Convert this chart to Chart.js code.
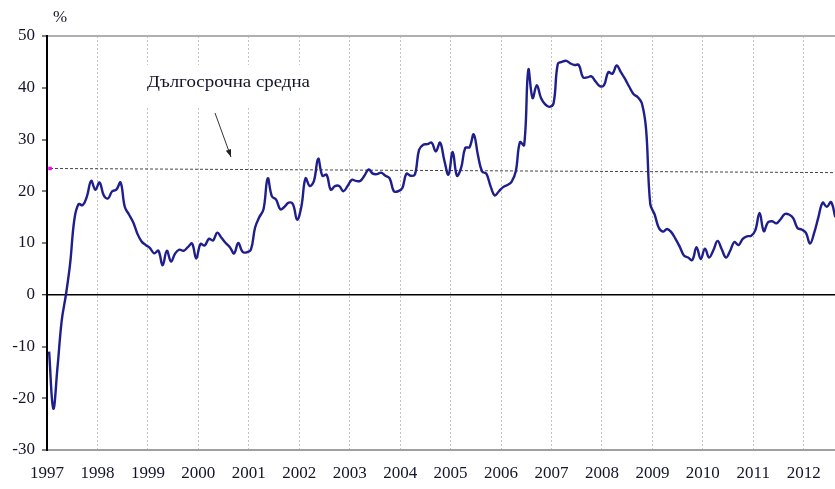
<!DOCTYPE html>
<html>
<head>
<meta charset="utf-8">
<script src="https://cdn.jsdelivr.net/npm/chart.js@4"></script>
<style>
  html, body { margin: 0; padding: 0; background: #fff; overflow: hidden; }
  #wrap { width: 835px; height: 489px; }
  canvas { display: block; }
</style>
</head>
<body>
<div id="wrap"><canvas id="chart" width="835" height="489"></canvas></div>
<script>
// DATA - monthly values (%), Jan 1997 .. Aug 2012
const startYear = 1997;
const endYear = 2012.62;
const yearTicks = [1997, 1998, 1999, 2000, 2001, 2002, 2003, 2004, 2005, 2006, 2007, 2008, 2009, 2010, 2011, 2012];

const values1997 = [-11, -22, -14, -5, 0, 6, 14.5, 17.5, 17.3, 19, 22, 20.3];
const values1998 = [21.7, 19.2, 18.6, 20, 20.3, 21.7, 17, 15.5, 14, 11.8, 10.3, 9.6];
const values1999 = [9, 8, 8.5, 5.7, 8.5, 6.4, 8, 8.7, 8.5, 9.2, 9.9, 7];
const values2000 = [9.8, 9.5, 10.8, 10.5, 12, 11, 10, 9.2, 8, 10, 8.3, 8.2];
const values2001 = [8.7, 13, 15, 16.5, 22.5, 19, 18.4, 16.5, 17, 17.8, 17.5, 14.5];
const values2002 = [17, 22.5, 21, 22, 26.3, 23, 23.2, 20.3, 21, 21, 20, 21];
const values2003 = [22.2, 22, 22, 23, 24.2, 23.4, 23.3, 23.6, 23, 22.5, 20, 20];
const values2004 = [20.6, 23.4, 23, 23.2, 28, 29, 29.1, 29.4, 27.7, 29.4, 26, 23.2];
const values2005 = [27.6, 23, 24.5, 28.4, 28.5, 31, 27, 23.8, 23.4, 21, 19.2, 20];
const values2006 = [20.8, 21.2, 21.8, 23.8, 29.5, 28.9, 43.5, 38, 40.5, 38, 36.8, 36.3];
const values2007 = [37, 44.6, 45, 45.2, 44.7, 44.4, 44.4, 42, 42, 42.2, 41.2, 40.3];
const values2008 = [40.5, 43, 42.7, 44.3, 43, 41.7, 40.2, 38.8, 38.2, 37, 32, 17.5];
const values2009 = [15.6, 13, 12.2, 12.7, 12.1, 10.8, 9.3, 7.6, 7.2, 6.7, 9.2, 6.9];
const values2010 = [8.9, 7.2, 8.6, 10.4, 8.8, 7.2, 8.5, 10.2, 9.6, 10.8, 11.3, 11.4];
const values2011 = [12.5, 15.8, 12.3, 14, 14.2, 13.8, 14.6, 15.6, 15.5, 14.8, 12.9, 12.6];
const values2012 = [12, 9.9, 12, 15, 17.8, 17, 17.9, 15];

// long-term average line (start / end level)
const avgX = [1997.06, 2012.62];
const avgY = [24.4, 23.6];

const annotationText = 'Дългосрочна средна';
const unitText = '%';

// BUILD POINTS
const allValues = [].concat(values1997, values1998, values1999, values2000, values2001,
    values2002, values2003, values2004, values2005, values2006, values2007, values2008,
    values2009, values2010, values2011, values2012);
const linePoints = allValues.map((v, i) => ({ x: startYear + (i + 0.5) / 12, y: v }));
const avgPoints = avgX.map((x, i) => ({ x: x, y: avgY[i] }));

const serif = '"Liberation Serif", "Times New Roman", serif';
const textColor = '#15152a';

// ANNOTATION + UNIT LABEL
const annotationPlugin = {
    id: 'annotation',
    afterDraw(chart) {
        const ctx = chart.ctx;
        ctx.save();
        // white box behind the label
        ctx.fillStyle = '#fff';
        ctx.fillRect(140, 65, 180, 42);

        ctx.fillStyle = textColor;
        ctx.font = '17px ' + serif;
        ctx.textBaseline = 'middle';
        const w = ctx.measureText(annotationText).width;
        ctx.save();
        ctx.translate(147, 83);
        ctx.scale(163 / w, 1);
        ctx.fillText(annotationText, 0, 0);
        ctx.restore();

        // arrow
        const x1 = 215, y1 = 113, x2 = 231, y2 = 157;
        ctx.strokeStyle = '#333';
        ctx.lineWidth = 1;
        ctx.beginPath();
        ctx.moveTo(x1, y1);
        ctx.lineTo(x2, y2);
        ctx.stroke();
        const ang = Math.atan2(y2 - y1, x2 - x1);
        ctx.fillStyle = '#222';
        ctx.beginPath();
        ctx.moveTo(x2, y2);
        ctx.lineTo(x2 - 8 * Math.cos(ang - 0.35), y2 - 8 * Math.sin(ang - 0.35));
        ctx.lineTo(x2 - 8 * Math.cos(ang + 0.35), y2 - 8 * Math.sin(ang + 0.35));
        ctx.closePath();
        ctx.fill();

        // unit
        ctx.fillStyle = textColor;
        ctx.font = '17px ' + serif;
        ctx.textAlign = 'left';
        ctx.fillText(unitText, 53, 18);
        ctx.restore();
    }
};

const ctx = document.getElementById('chart').getContext('2d');
new Chart(ctx, {
    type: 'line',
    data: {
        datasets: [
            {
                label: 'main',
                data: linePoints,
                borderColor: '#1e1e8c',
                borderWidth: 2.4,
                pointRadius: 0,
                tension: 0.4,
                fill: false,
                order: 0
            },
            {
                label: 'avg',
                data: avgPoints,
                borderColor: '#444',
                borderWidth: 1,
                borderDash: [3, 2],
                pointStyle: 'rect',
                pointRadius: [2.5, 0],
                pointBackgroundColor: '#ff00ff',
                pointBorderColor: '#ff00ff',
                pointBorderWidth: 0,
                tension: 0,
                fill: false,
                order: 1
            }
        ]
    },
    options: {
        responsive: false,
        animation: false,
        devicePixelRatio: 1,
        layout: { autoPadding: false, padding: { top: 36, right: 0, left: 0, bottom: 0 } },
        plugins: {
            legend: { display: false },
            tooltip: { enabled: false }
        },
        scales: {
            x: {
                type: 'linear',
                min: startYear,
                max: endYear,
                afterBuildTicks: (scale) => {
                    scale.ticks = yearTicks.map(y => ({ value: y }));
                },
                afterFit: (scale) => {
                    scale.height = 39;
                    scale.paddingLeft = 0;
                    scale.paddingRight = 0;
                },
                grid: {
                    color: '#c4c4c4',
                    lineWidth: 1,
                    drawTicks: false
                },
                border: { display: false, dash: [2, 2] },
                ticks: {
                    autoSkip: false,
                    maxRotation: 0,
                    padding: 13,
                    color: textColor,
                    font: { family: serif, size: 17 },
                    callback: (v) => String(v)
                }
            },
            y: {
                min: -30,
                max: 50,
                afterFit: (scale) => {
                    scale.width = 47;
                    scale.paddingTop = 0;
                    scale.paddingBottom = 0;
                },
                ticks: {
                    stepSize: 10,
                    padding: 7,
                    color: textColor,
                    font: { family: serif, size: 17 }
                },
                grid: {
                    color: (c) => {
                        if (c.tick.value === 0) return '#000';
                        if (c.tick.value === 50) return '#b0b0b0';
                        if (c.tick.value === -30) return '#a0a0a0';
                        return 'rgba(0,0,0,0)';
                    },
                    lineWidth: (c) => (c.tick.value === 0 ? 1.5 : 2),
                    drawTicks: true,
                    tickLength: 5,
                    tickColor: '#000',
                    tickWidth: 1
                },
                border: { display: true, color: '#000', width: 2 }
            }
        }
    },
    plugins: [annotationPlugin]
});
</script>
</body>
</html>
